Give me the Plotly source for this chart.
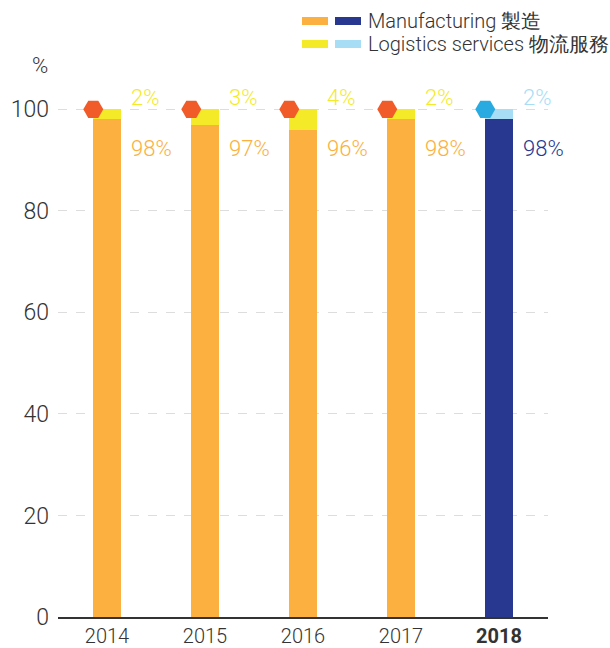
import plotly.graph_objects as go

years = ["2014", "2015", "2016", "2017", "2018"]
manufacturing = [98, 97, 96, 98, 98]
logistics = [2, 3, 4, 2, 2]
tick_labels = ["2014", "2015", "2016", "2017", "<b>2018</b>"]

ORANGE = "#FBB040"
NAVY = "#283891"
YELLOW = "#F4EA28"
LIGHTBLUE = "#A8DDF6"
HEX_RED = "#F15A29"
HEX_BLUE = "#29ABE2"

manu_colors = [ORANGE] * 4 + [NAVY]
logi_colors = [YELLOW] * 4 + [LIGHTBLUE]
hex_colors = [HEX_RED] * 4 + [HEX_BLUE]

FONT = "Roboto"
BAR_W = 0.28
xs = list(range(len(years)))

fig = go.Figure()
fig.add_trace(go.Bar(x=xs, y=manufacturing, width=BAR_W, marker=dict(color=manu_colors, line=dict(width=0)),
                     showlegend=False, hoverinfo="skip"))
fig.add_trace(go.Bar(x=xs, y=logistics, width=BAR_W, marker=dict(color=logi_colors, line=dict(width=0)),
                     showlegend=False, hoverinfo="skip"))
fig.add_trace(go.Scatter(x=[x - BAR_W / 2 for x in xs], y=[m + l for m, l in zip(manufacturing, logistics)],
                         mode="markers", cliponaxis=False,
                         marker=dict(symbol="hexagon2", size=20, color=hex_colors, line=dict(width=0)),
                         showlegend=False, hoverinfo="skip"))

annotations = []
for i, (m, l) in enumerate(zip(manufacturing, logistics)):
    annotations.append(dict(x=i, y=100, xref="x", yref="y", text=f"{l}%", showarrow=False,
                            xanchor="left", yanchor="middle", xshift=22, yshift=12,
                            font=dict(family=FONT, size=22, color=logi_colors[i], weight=300)))
    annotations.append(dict(x=i, y=100, xref="x", yref="y", text=f"{m}%", showarrow=False,
                            xanchor="left", yanchor="middle", xshift=22, yshift=-39,
                            font=dict(family=FONT, size=22, color=manu_colors[i], weight=300)))

# plot area in pixels: x 58..548, y 89..617
L, R, T, B = 58, 548, 89, 617
def px(xp):
    return (xp - L) / (R - L)
def py(yp):
    return (B - yp) / (B - T)

annotations.append(dict(x=px(40), y=py(65), xref="paper", yref="paper", text="%", showarrow=False,
                        xanchor="center", yanchor="middle",
                        font=dict(family=FONT, size=22, color="#333333", weight=300)))

legend_rows = [("Manufacturing 製造", ORANGE, NAVY, 21), ("Logistics services 物流服務", YELLOW, LIGHTBLUE, 44)]
shapes = []
for text, c1, c2, yc in legend_rows:
    shapes.append(dict(type="rect", xref="paper", yref="paper", x0=px(302), x1=px(328),
                       y0=py(yc + 4), y1=py(yc - 4), fillcolor=c1, line=dict(width=0)))
    shapes.append(dict(type="rect", xref="paper", yref="paper", x0=px(335), x1=px(361),
                       y0=py(yc + 4), y1=py(yc - 4), fillcolor=c2, line=dict(width=0)))
    annotations.append(dict(x=px(366), y=py(yc), xref="paper", yref="paper", text=text, showarrow=False,
                            xanchor="left", yanchor="middle",
                            font=dict(family=FONT, size=20, color="#333333", weight=300)))

fig.update_layout(
    barmode="stack",
    width=610, height=648,
    margin=dict(l=L, r=610 - R, t=T, b=648 - B),
    plot_bgcolor="white", paper_bgcolor="white",
    annotations=annotations, shapes=shapes,
    xaxis=dict(tickmode="array", tickvals=xs, ticktext=tick_labels, range=[-0.5, 4.5], automargin=False,
               showgrid=False, zeroline=False, showline=True, linecolor="#333333", linewidth=1.5,
               ticks="", tickfont=dict(family=FONT, size=20, color="#333333", weight=300)),
    yaxis=dict(range=[0, 104], tickvals=[0, 20, 40, 60, 80, 100], showgrid=True, automargin=False,
               gridcolor="#DDDDDD", griddash="dash", gridwidth=1, zeroline=False, showline=False,
               ticks="", ticklabelstandoff=8,
               tickfont=dict(family=FONT, size=23, color="#333333", weight=300)),
    bargap=0,
)

fig.write_html("out.html", config={"displayModeBar": False},
               post_script="document.body.style.margin='0';document.body.style.overflow='hidden';")
